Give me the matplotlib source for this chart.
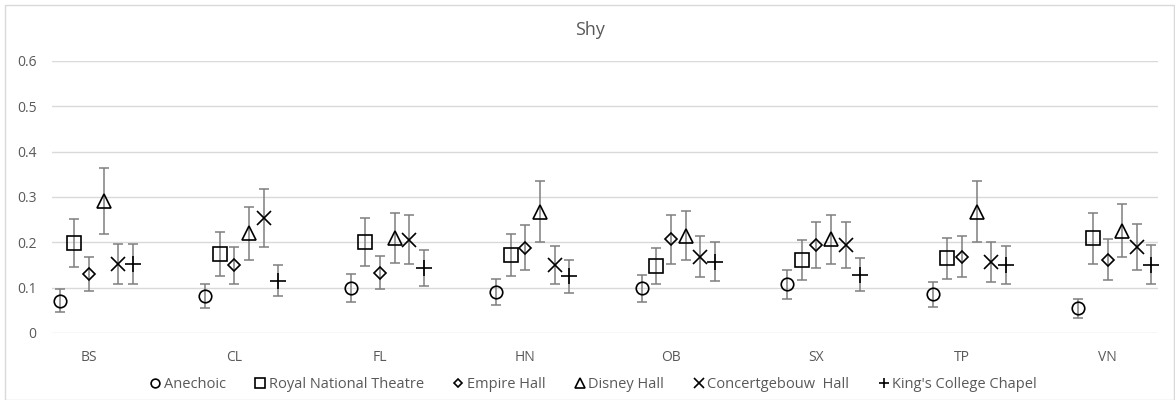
import matplotlib
matplotlib.use("Agg")
import matplotlib.pyplot as plt
import numpy as np

categories = ["BS", "CL", "FL", "HN", "OB", "SX", "TP", "VN"]
series_names = ["Anechoic", "Royal National Theatre", "Empire Hall",
                "Disney Hall", "Concertgebouw  Hall", "King's College Chapel"]

anechoic = [0.071, 0.082, 0.100, 0.090, 0.099, 0.108, 0.085, 0.055]
anechoic_err = [0.025, 0.027, 0.031, 0.029, 0.030, 0.032, 0.027, 0.021]
royal = [0.198, 0.174, 0.201, 0.172, 0.147, 0.162, 0.165, 0.209]
royal_err = [0.053, 0.048, 0.053, 0.047, 0.040, 0.044, 0.045, 0.056]
empire = [0.130, 0.149, 0.133, 0.188, 0.207, 0.194, 0.168, 0.162]
empire_err = [0.038, 0.041, 0.037, 0.050, 0.054, 0.051, 0.045, 0.045]
disney = [0.291, 0.220, 0.209, 0.268, 0.215, 0.207, 0.268, 0.226]
disney_err = [0.072, 0.058, 0.055, 0.067, 0.055, 0.054, 0.067, 0.059]
concert = [0.153, 0.254, 0.206, 0.149, 0.168, 0.194, 0.157, 0.190]
concert_err = [0.044, 0.064, 0.054, 0.042, 0.045, 0.051, 0.044, 0.051]
kings = [0.153, 0.115, 0.143, 0.125, 0.157, 0.129, 0.150, 0.151]
kings_err = [0.044, 0.034, 0.040, 0.037, 0.043, 0.036, 0.042, 0.043]

values = [anechoic, royal, empire, disney, concert, kings]
errors = [anechoic_err, royal_err, empire_err, disney_err, concert_err, kings_err]
markers = ["o", "s", "D", "^", "x", "+"]
msizes = [9, 10, 6.5, 10, 10, 11]
offsets = [-0.2, -0.1, 0.0, 0.1, 0.2, 0.3]

font = ["Open Sans", "DejaVu Sans"]
plt.rcParams["font.family"] = font
txt = "#595959"

fig = plt.figure(figsize=(11.75, 4), dpi=100)
# chart border
fig.patches.append(plt.Rectangle((5/1175, 0.0), 1 - 5/1175 - 0.0005, 1 - 5/400,
                                 transform=fig.transFigure, fill=False,
                                 edgecolor="#d9d9d9", lw=1))
ax = fig.add_axes([52/1175, 1 - 333/400, (1158 - 52)/1175, (333 - 61)/400])

x = np.arange(len(categories))
handles = []
for vals, errs, m, ms, off, name in zip(values, errors, markers, msizes, offsets, series_names):
    ax.errorbar(x + off, vals, yerr=errs, fmt="none", ecolor="#7f7f7f",
                elinewidth=1.1, capsize=3.5, capthick=1.1, zorder=2)
    h, = ax.plot(x + off, vals, linestyle="none", marker=m, markersize=ms,
                 markerfacecolor="none", markeredgecolor="black",
                 markeredgewidth=1.2, color="black", zorder=3, label=name)
    handles.append(h)

ax.set_xlim(-0.254, 7.347)
ax.set_ylim(0, 0.6)
ax.set_yticks([0, 0.1, 0.2, 0.3, 0.4, 0.5, 0.6])
ax.set_yticklabels(["0", "0.1", "0.2", "0.3", "0.4", "0.5", "0.6"])
ax.set_xticks(x)
ax.set_xticklabels(categories)
ax.tick_params(axis="both", length=0, colors=txt, labelsize=10)
ax.tick_params(axis="x", pad=12)
ax.tick_params(axis="y", pad=11)
for s in ax.spines.values():
    s.set_visible(False)
ax.grid(axis="y", color="#d9d9d9", lw=1)
ax.set_axisbelow(True)

fig.text(0.502, 1 - 30/400, "Shy", ha="center", va="center", fontsize=13, color=txt)

leg = fig.legend(handles=handles, loc="center", bbox_to_anchor=(0.505, 1 - 385/400),
                 ncol=6, frameon=False, handlelength=0.7, handletextpad=0.25,
                 columnspacing=2.0, fontsize=10.5, markerscale=0.7)
for t in leg.get_texts():
    t.set_color(txt)

fig.savefig("out.png", dpi=100)
